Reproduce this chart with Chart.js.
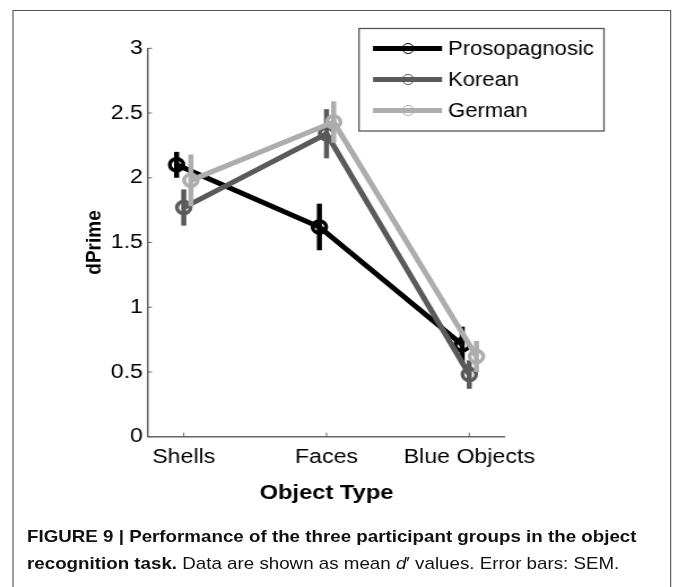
<!DOCTYPE html>
<html><head><meta charset="utf-8">
<script src="https://cdn.jsdelivr.net/npm/chart.js@4.4.1/dist/chart.umd.min.js"></script>
<style>
html,body{margin:0;padding:0;background:#fff;width:673px;height:587px;overflow:hidden;}
#stretch{position:absolute;left:0;top:0;width:596px;height:587px;transform:scaleX(1.13);transform-origin:0 0;}
#frame{position:absolute;left:10.6px;top:10px;width:583.2px;height:620px;border:1.5px solid #555;box-sizing:border-box;}
#wrap{position:absolute;left:0;top:0;width:596px;height:510px;}
#cap{position:absolute;left:23.9px;top:522.6px;font-family:"Liberation Sans",Arial,sans-serif;font-size:16.6px;line-height:27px;color:#111;white-space:nowrap;}
</style></head>
<body>
<div id="stretch">
<div id="frame"></div>
<div id="wrap"><canvas id="c" width="596" height="510"></canvas></div>
<div id="cap"><b>FIGURE 9 | Performance of the three participant groups in the object</b><br><b>recognition task.</b> Data are shown as mean <i>d</i>′ values. Error bars: SEM.</div>
</div>
<script>
const categories = ['Shells', 'Faces', 'Blue Objects'];
const seriesNames = ['Prosopagnosic', 'Korean', 'German'];
const prosopagnosic = [2.10, 1.62, 0.71];
const korean = [1.77, 2.34, 0.48];
const german = [1.98, 2.43, 0.62];
const prosopagnosicSEM = [0.10, 0.18, 0.14];
const koreanSEM = [0.14, 0.19, 0.11];
const germanSEM = [0.20, 0.16, 0.12];
const yTicks = [0, 0.5, 1, 1.5, 2, 2.5, 3];

const palette = ['#000000', '#5a5a5a', '#adadad'];
const offsets = [-0.05, 0, 0.05];
const values = [prosopagnosic, korean, german];
const sems = [prosopagnosicSEM, koreanSEM, germanSEM];

const datasets = seriesNames.map((name, s) => ({
  label: name,
  data: values[s].map((v, i) => ({x: i + 1 + offsets[s], y: v})),
  sem: sems[s],
  borderColor: palette[s],
  pointBorderColor: palette[s],
  pointBackgroundColor: 'rgba(0,0,0,0)',
  borderWidth: 5,
  pointRadius: 6,
  pointHoverRadius: 6,
  pointBorderWidth: 3.5,
  tension: 0,
  fill: false,
  clip: false,
  order: 3 - s
}));

const errorBars = {
  id: 'errorBars',
  beforeDatasetDraw(chart, args) {
    const ds = chart.data.datasets[args.index];
    const xs = chart.scales.x, ys = chart.scales.y, ctx = chart.ctx;
    ctx.save();
    ctx.strokeStyle = ds.borderColor;
    ctx.lineWidth = 4.5;
    ctx.lineCap = 'butt';
    ds.data.forEach((p, i) => {
      const x = xs.getPixelForValue(p.x);
      ctx.beginPath();
      ctx.moveTo(x, ys.getPixelForValue(p.y - ds.sem[i]));
      ctx.lineTo(x, ys.getPixelForValue(p.y + ds.sem[i]));
      ctx.stroke();
    });
    ctx.restore();
  }
};

const innerTicks = {
  id: 'innerTicks',
  beforeDatasetsDraw(chart) {
    const {ctx, chartArea: a, scales: {x, y}} = chart;
    ctx.save();
    ctx.strokeStyle = '#666';
    ctx.lineWidth = 1;
    ctx.beginPath();
    y.ticks.forEach(t => {
      const py = y.getPixelForValue(t.value);
      ctx.moveTo(a.left, py); ctx.lineTo(a.left + 3.5, py);
    });
    x.ticks.forEach(t => {
      const px = x.getPixelForValue(t.value);
      ctx.moveTo(px, a.bottom); ctx.lineTo(px, a.bottom - 4);
    });
    ctx.stroke();
    ctx.restore();
  }
};

const boxLegend = {
  id: 'boxLegend',
  afterDraw(chart) {
    const ctx = chart.ctx;
    const bx = 317.7, by = 28.5, bw = 216.8, bh = 102.5;
    ctx.save();
    ctx.fillStyle = '#fff';
    ctx.fillRect(bx, by, bw, bh);
    ctx.strokeStyle = '#555';
    ctx.lineWidth = 1.3;
    ctx.strokeRect(bx, by, bw, bh);
    chart.data.datasets.forEach((ds, i) => {
      const yy = 48.5 + i * 31;
      ctx.strokeStyle = ds.borderColor;
      ctx.lineWidth = 5;
      ctx.beginPath();
      ctx.moveTo(330.1, yy); ctx.lineTo(391.2, yy);
      ctx.stroke();
      ctx.lineWidth = 1;
      ctx.beginPath();
      ctx.arc(361.1, yy, 5, 0, Math.PI * 2);
      ctx.stroke();
      ctx.fillStyle = '#000';
      ctx.font = '19.5px "Liberation Sans", Arial, sans-serif';
      ctx.textBaseline = 'middle';
      ctx.textAlign = 'left';
      ctx.fillText(ds.label, 396.5, yy + 1);
    });
    ctx.restore();
  }
};

Chart.defaults.font.family = '"Liberation Sans", Arial, sans-serif';

new Chart(document.getElementById('c'), {
  type: 'line',
  data: {datasets},
  options: {
    responsive: false,
    animation: false,
    events: [],
    layout: {padding: {left: 0, top: 48.3, right: 149.1, bottom: 0}},
    plugins: {legend: {display: false}, tooltip: {enabled: false}},
    scales: {
      x: {
        type: 'linear', min: 0.75, max: 3.25,
        afterBuildTicks: s => { s.ticks = categories.map((c, i) => ({value: i + 1})); },
        afterFit: s => { s.height = 73.3; },
        grid: {display: false, drawTicks: false},
        border: {display: true, color: '#666', width: 1.5},
        ticks: {callback: (v, i) => categories[i], font: {size: 20.5}, color: '#000', padding: 8, maxRotation: 0, autoSkip: false},
        title: {display: true, text: 'Object Type', font: {size: 21, weight: 'bold'}, color: '#000', padding: {top: 0, bottom: 4.3}}
      },
      y: {
        min: 0, max: 3,
        afterBuildTicks: s => { s.ticks = yTicks.map(v => ({value: v})); },
        afterFit: s => { s.width = 131; },
        grid: {display: false, drawTicks: false},
        border: {display: true, color: '#666', width: 1.5},
        ticks: {callback: v => String(v), font: {size: 20.5}, color: '#000', padding: 4.5},
        title: {display: true, text: 'dPrime', font: {size: 19, weight: 'bold'}, color: '#000', padding: {top: 72.6, bottom: 0}}
      }
    }
  },
  plugins: [errorBars, innerTicks, boxLegend]
});
</script>
</body></html>
